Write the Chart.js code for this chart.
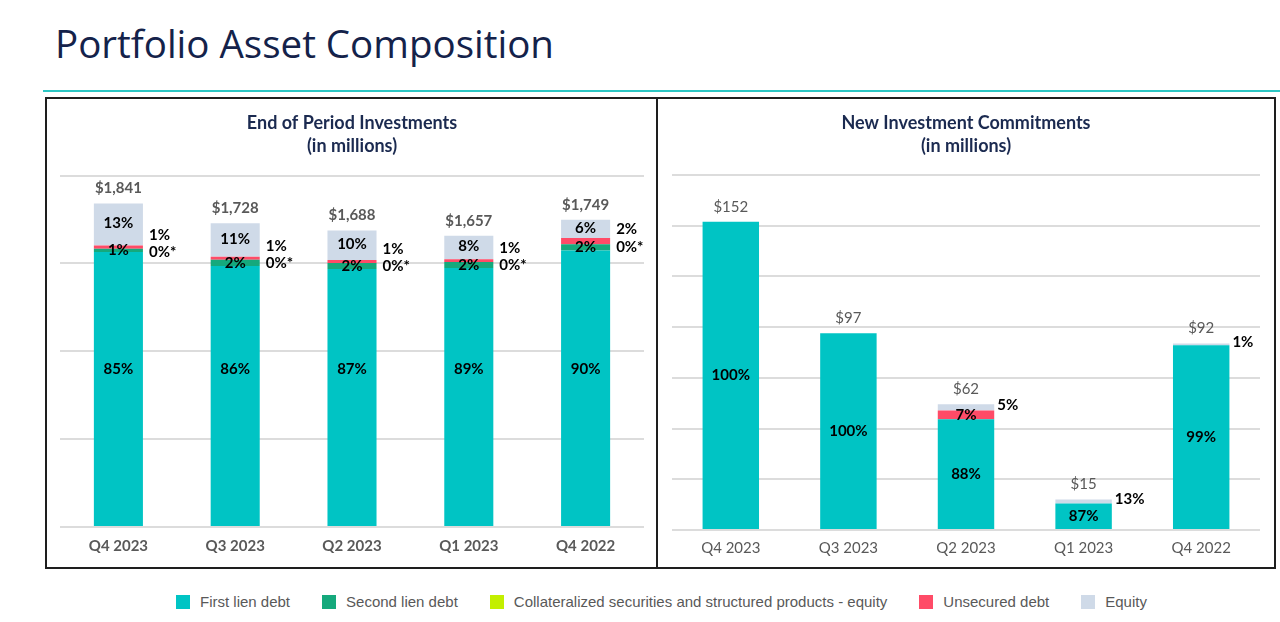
<!DOCTYPE html>
<html>
<head>
<meta charset="utf-8">
<script src="https://cdn.jsdelivr.net/npm/chart.js@4.4.1/dist/chart.umd.min.js"></script>
<style>
  body { margin: 0; width: 1280px; height: 622px; background: #fff; position: relative; overflow: hidden; font-family: Lato, sans-serif; }
  #pageTitle { position: absolute; left: 55px; top: 23.5px; font-family: "Open Sans", sans-serif; font-size: 38.5px; line-height: 38.5px; color: #14224a; white-space: nowrap; }
  #rule { position: absolute; left: 43px; right: 0; top: 90px; height: 2px; background: #2cc6c3; }
  .box { position: absolute; top: 97px; height: 468px; border: 2px solid #1e1e1e; }
  #leftBox { left: 45px; width: 609px; }
  #rightBox { left: 656px; width: 616px; }
  .box > div { position: absolute; left: 0; top: 0; right: 0; bottom: 0; }
  #legend { position: absolute; left: 176px; top: 593px; display: flex; align-items: center; font-family: "Liberation Sans", Arial, sans-serif; font-size: 15px; color: #595959; white-space: nowrap; }
  #legend .item { display: flex; align-items: center; margin-right: 32px; }
  #legend .sw { width: 14px; height: 14px; margin-right: 10px; }
</style>
</head>
<body>
<div id="pageTitle">Portfolio Asset Composition</div>
<div id="rule"></div>
<div class="box" id="leftBox"><div><canvas id="eopChart"></canvas></div></div>
<div class="box" id="rightBox"><div><canvas id="nicChart"></canvas></div></div>
<div id="legend"></div>

<script>
const quarters = ["Q4 2023", "Q3 2023", "Q2 2023", "Q1 2023", "Q4 2022"];
const seriesNames = ["First lien debt", "Second lien debt", "Collateralized securities and structured products - equity", "Unsecured debt", "Equity"];
const seriesColors = ["#00c4c4", "#15a97c", "#c3ef00", "#ff4b67", "#cfdae8"];

// end of period investments, $M and mix in %
const eopTotals = [1841, 1728, 1688, 1657, 1749];
const eopFirstLien = [85, 86, 87, 89, 90];
const eopSecondLien = [1, 2, 2, 2, 2];
const eopCollateral = [0, 0, 0, 0, 0];
const eopUnsecured = [1, 1, 1, 1, 2];
const eopEquity = [13, 11, 10, 8, 6];
const eopMax = 2000, eopStep = 500;

// new investment commitments, $M and mix in %
const nicTotals = [152, 97, 62, 15, 92];
const nicFirstLien = [100, 100, 88, 87, 99];
const nicSecondLien = [0, 0, 0, 0, 0];
const nicCollateral = [0, 0, 0, 0, 0];
const nicUnsecured = [0, 0, 7, 0, 0];
const nicEquity = [0, 0, 5, 13, 1];
const nicMax = 175, nicStep = 25;

const navy = "#1b2a50";
const gray = "#595959";

function buildDatasets(totals, mixes, places) {
  return mixes.map((pct, k) => ({
    label: seriesNames[k],
    data: totals.map((t, j) => t * pct[j] / 100),
    pct: pct,
    place: places[k],
    backgroundColor: seriesColors[k],
    borderWidth: 0
  }));
}

// draws the % labels and the $ totals
const barLabels = {
  id: "barLabels",
  afterDatasetsDraw(chart, args, opts) {
    const ctx = chart.ctx;
    const yScale = chart.scales.y;
    ctx.save();
    ctx.textBaseline = "middle";
    chart.data.datasets.forEach((ds, i) => {
      const meta = chart.getDatasetMeta(i);
      const p = ds.place;
      if (!p) return;
      meta.data.forEach((bar, j) => {
        const v = ds.pct[j];
        if (v === 0 && !p.showZero) return;
        const txt = v + (p.suffix || "%");
        const mid = (bar.y + bar.base) / 2;
        let y = p.at !== undefined ? yScale.getPixelForValue(p.at) : mid + (p.dy || 0);
        ctx.font = "bold 15px Lato";
        ctx.fillStyle = "#000";
        if (p.pos === "right") {
          ctx.textAlign = "left";
          ctx.fillText(txt, bar.x + bar.width / 2 + opts.gap, y);
        } else {
          ctx.textAlign = "center";
          ctx.fillText(txt, bar.x, y);
        }
      });
    });
    const meta0 = chart.getDatasetMeta(0);
    ctx.textAlign = "center";
    ctx.font = opts.totalFont;
    ctx.fillStyle = gray;
    opts.totals.forEach((t, j) => {
      const x = meta0.data[j].x;
      const y = yScale.getPixelForValue(t) - 15;
      ctx.fillText("$" + t.toLocaleString("en-US"), x, y);
    });
    ctx.restore();
  }
};

function makeOptions(title, max, step, pad, tickFont, tickPad, titleBottom, plugOpts) {
  return {
    responsive: true,
    maintainAspectRatio: false,
    animation: false,
    layout: { padding: pad },
    plugins: {
      legend: { display: false },
      tooltip: { enabled: false },
      title: {
        display: true,
        text: title,
        color: navy,
        font: { family: "Lato", size: 18, weight: "bold", lineHeight: 1.28 },
        padding: { top: 13, bottom: titleBottom }
      },
      barLabels: plugOpts
    },
    scales: {
      x: {
        stacked: true,
        grid: { display: false, drawTicks: false },
        border: { display: false },
        ticks: { color: gray, font: tickFont, padding: tickPad }
      },
      y: {
        stacked: true,
        min: 0,
        max: max,
        ticks: { display: false, stepSize: step },
        grid: { color: "#dcdcdc", lineWidth: 2, drawTicks: false },
        border: { display: false }
      }
    }
  };
}

// end of period chart
new Chart(document.getElementById("eopChart").getContext("2d"), {
  type: "bar",
  data: {
    labels: quarters,
    datasets: buildDatasets(eopTotals,
      [eopFirstLien, eopSecondLien, eopCollateral, eopUnsecured, eopEquity],
      [
        { pos: "in", at: 900 },
        { pos: "in" },
        { pos: "right", dy: 3, suffix: "%*", showZero: true },
        { pos: "right", dy: -12 },
        { pos: "in", dy: -1 }
      ]).map(d => Object.assign(d, { barPercentage: 0.42, categoryPercentage: 1 }))
  },
  options: makeOptions(["End of Period Investments", "(in millions)"], eopMax, eopStep,
    { left: 13, right: 12, top: 0, bottom: 2 },
    { family: "Lato", size: 15, weight: "bold" }, 10, 17.5,
    { gap: 6, totals: eopTotals, totalFont: "bold 15px Lato" }),
  plugins: [barLabels]
});

// new commitments chart
new Chart(document.getElementById("nicChart").getContext("2d"), {
  type: "bar",
  data: {
    labels: quarters,
    datasets: buildDatasets(nicTotals,
      [nicFirstLien, nicSecondLien, nicCollateral, nicUnsecured, nicEquity],
      [
        { pos: "in" },
        { pos: "in" },
        null,
        { pos: "in" },
        { pos: "right", dy: -2 }
      ]).map(d => Object.assign(d, { barPercentage: 0.48, categoryPercentage: 1 }))
  },
  options: makeOptions(["New Investment Commitments", "(in millions)"], nicMax, nicStep,
    { left: 14, right: 14, top: 0, bottom: 1 },
    { family: "Lato", size: 15 }, 9, 17,
    { gap: 3, totals: nicTotals, totalFont: "15px Lato" }),
  plugins: [barLabels]
});

// shared legend
const legend = document.getElementById("legend");
seriesNames.forEach((name, k) => {
  const item = document.createElement("div");
  item.className = "item";
  const sw = document.createElement("span");
  sw.className = "sw";
  sw.style.background = seriesColors[k];
  item.appendChild(sw);
  item.appendChild(document.createTextNode(name));
  legend.appendChild(item);
});
</script>
</body>
</html>
